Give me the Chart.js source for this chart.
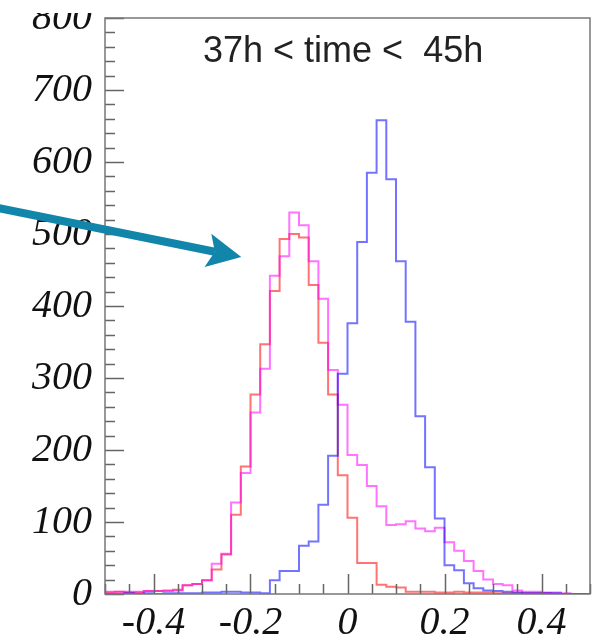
<!DOCTYPE html>
<html>
<head>
<meta charset="utf-8">
<script src="https://cdn.jsdelivr.net/npm/chart.js@4.4.1/dist/chart.umd.min.js"></script>
<style>
    html, body { margin: 0; padding: 0; background: #fff; }
    #wrap { width: 592px; height: 643px; }
</style>
</head>
<body>
<div id="wrap"><canvas id="hist" width="592" height="643"></canvas></div>
<script>
// Histogram bin edges (51 edges -> 50 bins of width 0.02)
const binEdges = [-0.50, -0.48, -0.46, -0.44, -0.42, -0.40, -0.38, -0.36, -0.34, -0.32,
    -0.30, -0.28, -0.26, -0.24, -0.22, -0.20, -0.18, -0.16, -0.14, -0.12,
    -0.10, -0.08, -0.06, -0.04, -0.02, 0.00, 0.02, 0.04, 0.06, 0.08,
    0.10, 0.12, 0.14, 0.16, 0.18, 0.20, 0.22, 0.24, 0.26, 0.28,
    0.30, 0.32, 0.34, 0.36, 0.38, 0.40, 0.42, 0.44, 0.46, 0.48, 0.50];

// Bin contents
const redCounts = [5, 2, 3, 2, 2, 4, 4, 5, 6, 12,
    14, 19, 34, 55, 110, 177, 277, 347, 421, 493,
    500, 495, 429, 349, 277, 165, 106, 43, 43, 13,
    10, 9, 3, 3, 3, 2, 2, 3, 2, 2,
    2, 1, 1, 1, 1, 1, 1, 0, 0, 0];
const magentaCounts = [3, 3, 3, 3, 3, 4, 4, 4, 5, 12,
    14, 19, 42, 56, 127, 168, 252, 313, 442, 469,
    530, 512, 462, 410, 311, 263, 193, 179, 150, 122,
    96, 97, 101, 91, 87, 92, 72, 60, 46, 32,
    20, 14, 12, 5, 3, 3, 2, 2, 1, 0];
const blueCounts = [0, 0, 0, 1, 0, 1, 0, 1, 1, 1,
    1, 2, 2, 3, 3, 2, 2, 1, 19, 32,
    32, 67, 73, 124, 192, 306, 376, 489, 585, 658,
    576, 462, 378, 247, 176, 105, 40, 33, 15, 8,
    5, 4, 3, 2, 1, 1, 1, 1, 0, 0];

// Axis ticks
const xTickValues = [-0.4, -0.2, 0, 0.2, 0.4];
const yTickValues = [0, 100, 200, 300, 400, 500, 600, 700, 800];
const titleText = '37h < time <  45h';

// Arrow annotation (data coordinates)
const arrowFrom = { x: -0.72, y: 536 };
const arrowTo = { x: -0.219, y: 468 };

// histogram -> stepped line points (left edges + closing right edge)
function toSteps(counts) {
    const pts = counts.map((c, i) => ({ x: binEdges[i], y: c }));
    pts.push({ x: binEdges[binEdges.length - 1], y: counts[counts.length - 1] });
    return pts;
}

function minorValues(majors, div, min, max) {
    const step = (majors[1] - majors[0]) / div;
    const out = [];
    for (let v = majors[0]; v >= min - 1e-9; v -= step) out.push(v);
    for (let v = majors[0] + step; v <= max + 1e-9; v += step) out.push(v);
    return out;
}

// Frame, inner ticks, title text and arrow
const decorPlugin = {
    id: 'decor',
    afterDatasetsDraw(chart) {
        const { ctx, chartArea: a, scales: { x, y } } = chart;
        ctx.save();
        ctx.strokeStyle = '#666';
        ctx.lineWidth = 1.5;
        ctx.beginPath();
        minorValues(yTickValues, 5, y.min, y.max).forEach(v => {
            const py = Math.round(y.getPixelForValue(v)) + 0.5;
            const major = yTickValues.some(m => Math.abs(m - v) < 1e-6);
            ctx.moveTo(a.left, py);
            ctx.lineTo(a.left + (major ? 19 : 10), py);
        });
        minorValues(xTickValues, 4, x.min, x.max).forEach(v => {
            const px = Math.round(x.getPixelForValue(v)) + 0.5;
            const major = xTickValues.some(m => Math.abs(m - v) < 1e-6);
            ctx.moveTo(px, a.bottom);
            ctx.lineTo(px, a.bottom - (major ? 20 : 10));
        });
        ctx.stroke();

        // frame
        ctx.strokeStyle = '#777';
        ctx.lineWidth = 1.5;
        ctx.strokeRect(a.left, a.top, a.right - a.left, a.bottom - a.top);

        // title
        ctx.fillStyle = '#222';
        ctx.font = '36px "Liberation Sans", Arial, sans-serif';
        ctx.textBaseline = 'alphabetic';
        ctx.fillText(titleText, 203, 62);
        ctx.restore();
    },
    afterDraw(chart) {
        const { ctx, chartArea: a, scales: { x, y } } = chart;
        // the source picture is cropped just above the top label
        ctx.save();
        ctx.fillStyle = '#fff';
        ctx.fillRect(0, 0, a.left - 4, a.top - 5);

        const x0 = x.getPixelForValue(arrowFrom.x), y0 = y.getPixelForValue(arrowFrom.y);
        const x1 = x.getPixelForValue(arrowTo.x), y1 = y.getPixelForValue(arrowTo.y);
        const ang = Math.atan2(y1 - y0, x1 - x0);
        const len = 34, half = 17, notch = 27;
        const cos = Math.cos(ang), sin = Math.sin(ang);
        ctx.strokeStyle = '#1185AA';
        ctx.fillStyle = '#1185AA';
        ctx.lineWidth = 8;
        ctx.beginPath();
        ctx.moveTo(x0, y0);
        ctx.lineTo(x1 - notch * cos, y1 - notch * sin);
        ctx.stroke();
        ctx.beginPath();
        ctx.moveTo(x1, y1);
        ctx.lineTo(x1 - len * cos + half * sin, y1 - len * sin - half * cos);
        ctx.lineTo(x1 - notch * cos, y1 - notch * sin);
        ctx.lineTo(x1 - len * cos - half * sin, y1 - len * sin + half * cos);
        ctx.closePath();
        ctx.fill();
        ctx.restore();
    }
};

const tickFont = { family: '"Liberation Serif", "Times New Roman", serif', size: 40, style: 'italic', lineHeight: 0.8 };

function histDataset(counts, color) {
    return {
        data: toSteps(counts),
        borderColor: color,
        borderWidth: 2,
        stepped: 'after',
        pointRadius: 0,
        fill: false,
        tension: 0
    };
}

new Chart(document.getElementById('hist'), {
    type: 'line',
    data: {
        datasets: [
            histDataset(blueCounts, 'rgba(0, 0, 255, 0.55)'),
            histDataset(magentaCounts, 'rgba(255, 0, 255, 0.55)'),
            histDataset(redCounts, 'rgba(255, 0, 0, 0.55)')
        ]
    },
    options: {
        responsive: false,
        animation: false,
        layout: { padding: { top: 18, right: 2, left: 0, bottom: 0 } },
        plugins: { legend: { display: false }, tooltip: { enabled: false } },
        scales: {
            x: {
                type: 'linear',
                min: -0.5,
                max: 0.5,
                grid: { display: false, drawTicks: false },
                border: { display: false },
                afterBuildTicks: s => { s.ticks = xTickValues.map(v => ({ value: v })); },
                afterFit: s => { s.height = 49; s.paddingLeft = 0; s.paddingRight = 0; },
                ticks: {
                    font: tickFont,
                    color: '#111',
                    padding: 13,
                    autoSkip: false,
                    maxRotation: 0,
                    callback: v => String(v)
                }
            },
            y: {
                type: 'linear',
                min: 0,
                max: 800,
                grid: { display: false, drawTicks: false },
                border: { display: false },
                afterBuildTicks: s => { s.ticks = yTickValues.map(v => ({ value: v })); },
                afterFit: s => { s.width = 105; s.paddingTop = 0; s.paddingBottom = 0; },
                ticks: {
                    font: tickFont,
                    color: '#111',
                    padding: 13,
                    callback: v => String(v)
                }
            }
        }
    },
    plugins: [decorPlugin]
});
</script>
</body>
</html>
